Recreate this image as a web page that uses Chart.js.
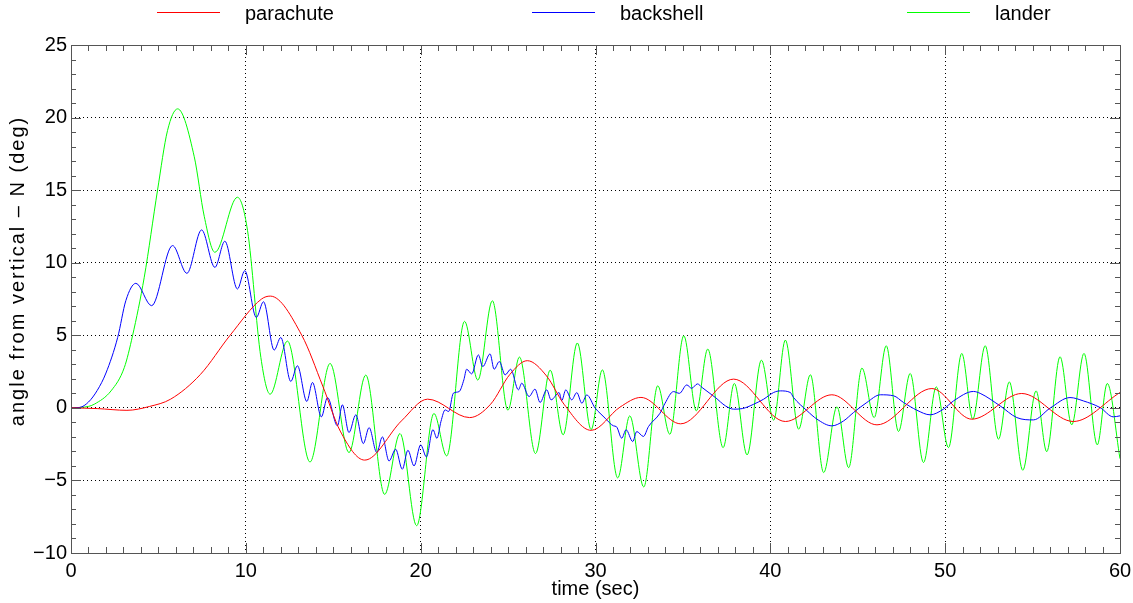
<!DOCTYPE html>
<html>
<head>
<meta charset="utf-8">
<script src="https://cdn.jsdelivr.net/npm/chart.js@4.4.0/dist/chart.umd.min.js"></script>
<style>
    html, body { margin: 0; padding: 0; background: #fff; }
</style>
</head>
<body>
<canvas id="lineChart" width="1133" height="603"></canvas>
<script>
// time (sec), angle (deg) -- at the turning points
const parachute = [
    [0, 0], [1.5, -0.05], [3.2, -0.17], [4.5, 0.1], [5.7, 0.6], [7.4, 2.3], [9.1, 5.0],
    [10.9, 7.5], [11.4, 7.7], [13.2, 5.0], [14.4, 1.5], [15.4, -1.6], [16.8, -3.6],
    [18.9, -0.9], [20.4, 0.6], [22.8, -0.67], [24.0, 0.25], [25.1, 2.3], [26.1, 3.25],
    [27.2, 2.2], [28.2, 0.25], [29.75, -1.55], [31.4, 0.05], [32.6, 0.72], [34.87, -1.1],
    [37.9, 1.98], [40.86, -0.94], [43.52, 0.9], [46.1, -1.17], [49.24, 1.33],
    [51.52, -0.78], [54.38, 0.99], [57.33, -0.94], [60, 1.06]
];

const backshell = [
    [0, 0], [0.5, 0.03], [1.0, 0.4], [1.5, 1.2], [2.0, 2.4], [2.67, 4.85], [3.14, 7.4], [3.71, 8.58],
    [4.61, 7.04], [5.81, 11.18], [6.63, 9.27], [7.47, 12.26], [8.23, 9.68], [8.8, 11.48],
    [9.52, 8.19], [9.94, 9.45], [10.6, 6.23], [11.01, 7.31], [11.62, 3.98], [12.0, 4.85],
    [12.57, 1.82], [12.95, 2.9], [13.49, 0.44], [13.81, 1.75], [14.32, -0.62], [14.67, 0.71],
    [15.24, -1.24], [15.52, 0.21], [15.9, -1.7], [16.29, -0.48], [16.72, -2.46], [17.05, -1.36],
    [17.49, -3.08], [17.81, -2.0], [18.19, -3.66], [18.57, -2.85], [18.95, -4.23], [19.27, -2.92],
    [19.62, -4.0], [20.0, -2.55], [20.33, -3.38], [20.7, -1.5], [20.93, -2.1], [21.16, -0.94],
    [21.4, -0.14], [21.6, -0.25], [21.87, 1.01], [22.2, 1.12], [22.47, 1.93], [22.63, 2.66],
    [22.92, 2.34], [23.3, 3.65], [23.55, 2.84], [23.97, 3.72], [24.2, 2.66], [24.5, 3.19],
    [24.83, 2.27], [25.15, 2.66], [25.59, 1.24], [25.78, 1.7], [26.2, 0.78], [26.54, 1.29],
    [26.83, 0.37], [27.21, 1.24], [27.46, 0.55], [27.92, 1.05], [28.07, 0.5], [28.3, 1.24],
    [28.64, 0.55], [28.93, 1.05], [29.22, 0.32], [29.5, 0.89], [29.98, -0.02], [30.26, -0.37],
    [30.55, -0.71], [31.03, -1.24], [31.2, -1.3], [31.5, -2.09], [31.75, -1.51], [32.13, -2.32],
    [32.36, -1.63], [32.74, -1.97], [33.03, -1.29], [33.69, -0.37], [33.98, 0.32], [34.46, 1.12],
    [34.8, 1.0], [35.22, 1.58], [35.5, 1.35], [35.83, 1.65], [36.1, 1.4], [36.66, 0.89],
    [36.86, 0.71], [37.43, 0.14], [37.9, -0.09], [38.4, -0.05], [39.05, 0.25], [39.62, 0.6],
    [40.19, 1.06], [40.57, 1.17], [41.14, 1.06], [41.33, 0.71], [42.1, -0.2], [42.67, -0.78],
    [43.52, -1.24], [44.19, -0.9], [44.76, -0.32], [45.52, 0.37], [46.29, 0.9], [47.05, 0.83],
    [47.62, 0.37], [48.38, -0.16], [49.14, -0.48], [49.9, -0.09], [50.48, 0.48], [51.62, 1.13],
    [52.0, 1.0], [53.14, 0.14], [54.1, -0.67], [55.05, -0.83], [56.0, -0.02], [57.14, 0.71],
    [57.9, 0.48], [58.86, 0.02], [59.62, -0.62], [60, -0.55]
];

const lander = [
    [0, 0], [1.0, 0.1], [1.33, 0.25], [2.29, 1.17], [3.05, 2.78], [3.52, 4.97], [4.19, 9.0],
    [4.95, 15.0], [5.52, 19.1], [6.1, 20.6], [7.05, 17.3], [7.62, 13.2], [8.23, 10.72],
    [9.52, 14.51], [10.1, 12.2], [10.86, 3.47], [11.39, 0.94], [12.38, 4.6], [13.67, -3.73],
    [14.82, 3.06], [15.9, -3.08], [16.86, 2.26], [17.94, -5.96], [18.82, -1.77], [19.77, -8.12],
    [20.76, -0.39], [21.49, -3.31], [22.51, 5.96], [23.27, 1.91], [24.1, 7.38], [24.99, -0.16],
    [25.65, 3.5], [26.57, -3.15], [27.41, 2.6], [28.15, -1.86], [28.96, 4.47], [29.75, -1.5],
    [30.39, 2.62], [31.27, -4.83], [31.96, -0.55], [32.76, -5.45], [33.56, 1.52], [34.25, -1.82],
    [35.05, 4.97], [35.77, -0.21], [36.42, 4.05], [37.3, -2.74], [37.94, 1.68], [38.67, -3.24],
    [39.49, 3.29], [40.19, -0.85], [40.86, 4.67], [41.62, -1.47], [42.29, 2.28], [43.05, -4.46],
    [43.81, 0.07], [44.48, -4.12], [45.24, 2.74], [45.94, -0.67], [46.63, 4.28], [47.33, -1.63],
    [48.0, 2.37], [48.76, -3.77], [49.49, 1.45], [50.19, -2.74], [50.95, 3.75], [51.58, -0.78],
    [52.29, 4.28], [53.05, -2.16], [53.67, 1.79], [54.44, -4.3], [55.2, 1.17], [55.81, -3.02],
    [56.57, 3.52], [57.24, -1.17], [57.94, 3.75], [58.7, -2.55], [59.27, 1.68], [60, -3.5]
];

const seriesNames = ['parachute', 'backshell', 'lander'];
const seriesColors = ['#ff0000', '#0000ff', '#00ff00'];

const yTitle = 'angle from vertical \u2013 N (deg)';
const FONT = '"Liberation Sans", Arial, sans-serif';

const toXY = arr => arr.map(p => ({x: p[0], y: p[1]}));

// legend across the top: a short line and the name for each dataset
const topLegend = {
    id: 'topLegend',
    afterDraw(chart) {
        const {ctx} = chart;
        ctx.save();
        ctx.font = '20px ' + FONT;
        ctx.textBaseline = 'middle';
        ctx.fillStyle = '#000';
        ctx.lineWidth = 1;
        chart.data.datasets.forEach((ds, i) => {
            const x0 = 157 + 375 * i;
            ctx.strokeStyle = ds.borderColor;
            ctx.beginPath();
            ctx.moveTo(x0, 12.5);
            ctx.lineTo(x0 + 63, 12.5);
            ctx.stroke();
            ctx.fillText(ds.label, x0 + 88, 14);
        });
        ctx.restore();
    }
};

// frame round the plot, inward major/minor ticks on all four sides, y title
const frameTicks = {
    id: 'frameTicks',
    afterDraw(chart) {
        const {ctx, chartArea: a, scales: {x, y}} = chart;
        ctx.save();
        ctx.strokeStyle = '#555';
        ctx.lineWidth = 1;
        ctx.beginPath();
        for (let t = 0; t <= 60; t++) {
            const px = Math.round(x.getPixelForValue(t)) + 0.5;
            const len = t % 10 === 0 ? 10 : 6;
            ctx.moveTo(px, a.bottom);
            ctx.lineTo(px, a.bottom - len);
            ctx.moveTo(px, a.top);
            ctx.lineTo(px, a.top + len);
        }
        for (let v = -10; v <= 25; v++) {
            const py = Math.round(y.getPixelForValue(v)) + 0.5;
            const len = v % 5 === 0 ? 10 : 5;
            ctx.moveTo(a.left, py);
            ctx.lineTo(a.left + len, py);
            ctx.moveTo(a.right, py);
            ctx.lineTo(a.right - len, py);
        }
        ctx.stroke();
        ctx.strokeRect(Math.round(a.left) + 0.5, Math.round(a.top) + 0.5,
            Math.round(a.right - a.left), Math.round(a.bottom - a.top));

        ctx.translate(18, 271);
        ctx.rotate(-Math.PI / 2);
        ctx.font = '20px ' + FONT;
        ctx.letterSpacing = '2px';
        ctx.fillStyle = '#000';
        ctx.textAlign = 'center';
        ctx.textBaseline = 'middle';
        ctx.fillText(yTitle, 0, 0);
        ctx.restore();
    }
};

const lineChart = new Chart('lineChart', {
    type: 'line',
    data: {
        datasets: [parachute, backshell, lander].map((s, i) => ({
            label: seriesNames[i],
            data: toXY(s),
            borderColor: seriesColors[i],
            backgroundColor: seriesColors[i],
            borderWidth: 1,
            pointRadius: 0,
            cubicInterpolationMode: 'monotone',
            fill: false
        }))
    },
    options: {
        responsive: false,
        animation: false,
        layout: {
            padding: {top: 45, right: 13, left: 0, bottom: 0}
        },
        scales: {
            x: {
                type: 'linear',
                min: 0,
                max: 60,
                afterFit: s => {
                    s.height = 50;
                    s.paddingLeft = 0;
                    s.paddingRight = 0;
                },
                ticks: {
                    stepSize: 10,
                    color: '#000',
                    padding: 6,
                    maxRotation: 0,
                    font: {family: FONT, size: 20}
                },
                grid: {
                    color: '#000',
                    drawTicks: false
                },
                border: {display: false, dash: [1, 3]},
                title: {
                    display: true,
                    text: 'time (sec)',
                    color: '#000',
                    font: {family: FONT, size: 20},
                    padding: {top: 0, bottom: 2}
                }
            },
            y: {
                min: -10,
                max: 25,
                afterFit: s => {
                    s.width = 71;
                    s.paddingTop = 0;
                    s.paddingBottom = 0;
                },
                ticks: {
                    stepSize: 5,
                    color: '#000',
                    padding: 4,
                    font: {family: FONT, size: 20},
                    callback: v => String(v).replace('-', '\u2212')
                },
                grid: {
                    color: '#000',
                    drawTicks: false
                },
                border: {display: false, dash: [1, 3]},
                title: {display: false}
            }
        },
        plugins: {
            legend: {
                display: false,
            },
            tooltip: {enabled: false}
        }
    },
    plugins: [topLegend, frameTicks],
});
</script>
</body>
</html>
